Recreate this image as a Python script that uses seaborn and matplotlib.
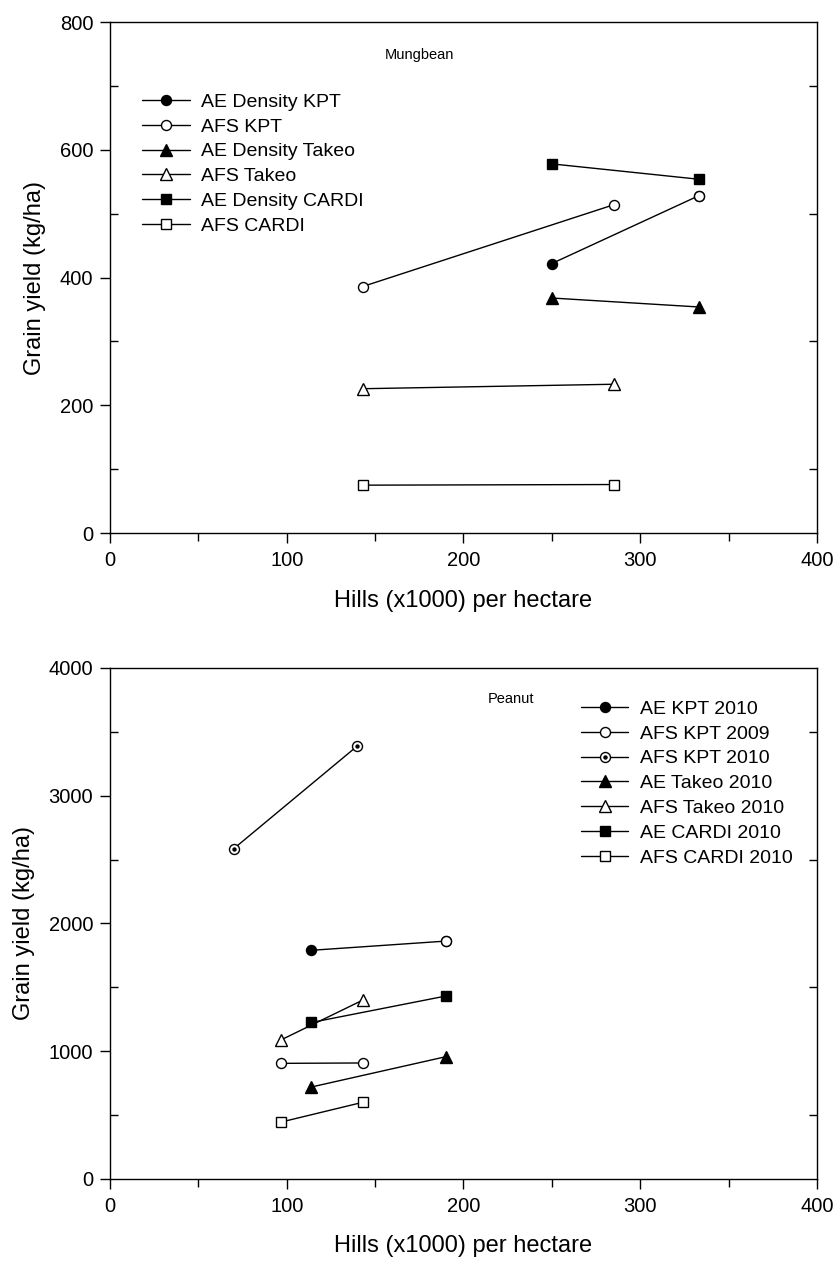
import numpy as np
import pandas as pd
import matplotlib
matplotlib.use("Agg")
import matplotlib.pyplot as plt
import seaborn as sns
from matplotlib.ticker import MultipleLocator
from matplotlib.lines import Line2D
from matplotlib.legend_handler import HandlerTuple

# ---------------- data ----------------
mung_names = ["AE Density KPT", "AFS KPT", "AE Density Takeo", "AFS Takeo",
              "AE Density CARDI", "AFS CARDI"]
mung_x = [[250, 333], [143, 285], [250, 333], [143, 285], [250, 333], [143, 285]]
mung_y = [[422, 528], [386, 514], [368, 354], [226, 233], [578, 554], [75, 76]]

pea_names = ["AE KPT 2010", "AFS KPT 2009", "AFS KPT 2010", "AE Takeo 2010",
             "AFS Takeo 2010", "AE CARDI 2010", "AFS CARDI 2010"]
pea_x = [[114, 190], [97, 143], [70, 140], [114, 190], [97, 143], [114, 190], [97, 143]]
pea_y = [[1790, 1862], [905, 908], [2585, 3390], [720, 957], [1090, 1400],
         [1225, 1432], [446, 600]]

x_label = "Hills (x1000) per hectare"
y_label = "Grain yield (kg/ha)"

# ---------------- style ----------------
sns.set_theme(style="white")
plt.rcParams["font.family"] = ["Liberation Sans", "DejaVu Sans"]
plt.rcParams["text.color"] = "black"
plt.rcParams["axes.labelcolor"] = "black"
plt.rcParams["xtick.color"] = "black"
plt.rcParams["ytick.color"] = "black"

mung_styles = [("o", "full"), ("o", "open"), ("^", "full"), ("^", "open"),
               ("s", "full"), ("s", "open")]
pea_styles = [("o", "full"), ("o", "open"), ("o", "dot"), ("^", "full"),
              ("^", "open"), ("s", "full"), ("s", "open")]
msize = {"o": 7.2, "^": 8.5, "s": 7.2}

fig = plt.figure(figsize=(8.35, 12.62), dpi=100)
ax1 = fig.add_axes([0.1317, 0.5776, 0.8467, 0.4049])
ax2 = fig.add_axes([0.1317, 0.0658, 0.8467, 0.4049])


def draw(ax, names, xs, ys, styles):
    handles = []
    for i, (name, x, y, (m, fill)) in enumerate(zip(names, xs, ys, styles)):
        df = pd.DataFrame({"x": x, "y": y})
        fc = "black" if fill == "full" else "white"
        sns.lineplot(data=df, x="x", y="y", ax=ax, color="black", linewidth=1.0,
                     marker=m, markersize=msize[m], markerfacecolor=fc,
                     markeredgecolor="black", markeredgewidth=1.0,
                     sort=False, estimator=None, legend=False, zorder=3)
        h = Line2D([], [], color="black", lw=1.0, marker=m, markersize=msize[m],
                   markerfacecolor=fc, markeredgecolor="black", markeredgewidth=1.0)
        if fill == "dot":
            sns.scatterplot(data=df, x="x", y="y", ax=ax, color="black", s=10,
                            marker="o", linewidth=0, legend=False, zorder=4)
            d = Line2D([], [], color="black", lw=0, marker="o", markersize=3.2,
                       markerfacecolor="black", markeredgewidth=0)
            h = (h, d)
        if i == 0:
            # last point of this series drawn as open circle
            sub = df.iloc[[-1]]
            sns.scatterplot(data=sub, x="x", y="y", ax=ax, color="white", s=msize[m] ** 2,
                            marker=m, edgecolor="black", linewidth=1.0, legend=False, zorder=4)
        handles.append(h)
    return handles


h1 = draw(ax1, mung_names, mung_x, mung_y, mung_styles)
h2 = draw(ax2, pea_names, pea_x, pea_y, pea_styles)

for ax, ymax, ymaj in [(ax1, 800, 200), (ax2, 4000, 1000)]:
    ax.set_xlim(0, 400)
    ax.set_ylim(0, ymax)
    ax.xaxis.set_major_locator(MultipleLocator(100))
    ax.xaxis.set_minor_locator(MultipleLocator(50))
    ax.yaxis.set_major_locator(MultipleLocator(ymaj))
    ax.yaxis.set_minor_locator(MultipleLocator(ymaj / 2))
    ax.tick_params(axis="x", which="major", direction="out", bottom=True, top=False,
                   length=7, width=1.0, labelsize=14.5, pad=6, colors="black")
    ax.tick_params(axis="x", which="minor", direction="out", bottom=True, top=False,
                   length=6, width=1.0)
    ax.tick_params(axis="y", which="major", direction="out", left=True, right=False,
                   length=7, width=1.0, labelsize=14.5, pad=5, colors="black")
    ax.tick_params(axis="y", which="minor", direction="in", left=True, right=True,
                   length=6, width=1.0)
    for s in ax.spines.values():
        s.set_color("black")
        s.set_linewidth(1.0)
    ax.set_xlabel(x_label, fontsize=17, labelpad=14)
    ax.set_ylabel(y_label, fontsize=17, labelpad=10)

ax1.text(0.438, 0.935, "Mungbean", transform=ax1.transAxes, ha="center", va="center",
         fontsize=10.5)
ax2.text(0.567, 0.94, "Peanut", transform=ax2.transAxes, ha="center", va="center",
         fontsize=10.5)

leg_kw = dict(frameon=False, fontsize=14, handlelength=2.45, handletextpad=0.58,
              labelspacing=0.37, borderpad=0, borderaxespad=0, labelcolor="black",
              handler_map={tuple: HandlerTuple(ndivide=1, pad=0)})
ax1.legend(h1, mung_names, loc="upper left", bbox_to_anchor=(0.046, 0.861), **leg_kw)
ax2.legend(h2, pea_names, loc="upper left", bbox_to_anchor=(0.666, 0.937), **leg_kw)

fig.savefig("out.png", dpi=100)
